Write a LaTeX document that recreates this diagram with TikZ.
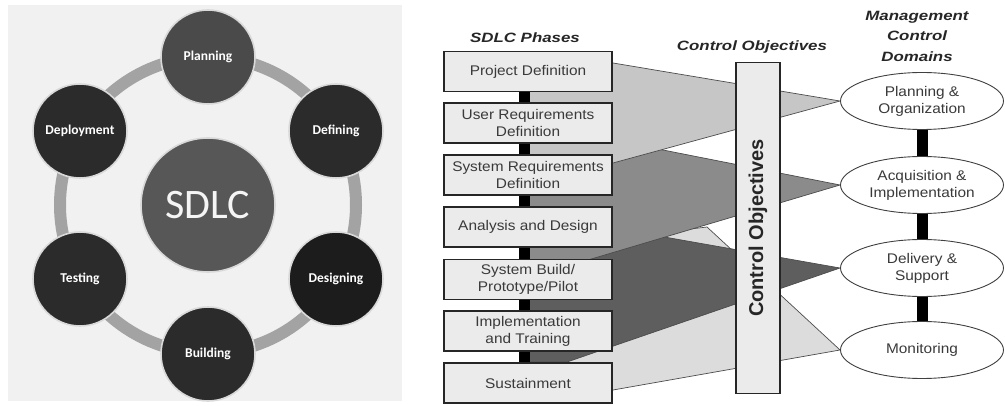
\documentclass[tikz,border=0pt]{standalone}
\usepackage{fontspec}
\usetikzlibrary{shapes.geometric}
\setmainfont{Liberation Sans}
\newfontfamily\calibri{Carlito}
\newfontfamily\phasefont[FakeStretch=1.1]{Liberation Sans}
\newfontfamily\headfont[FakeStretch=1.25]{Liberation Sans}

\definecolor{panelbg}{HTML}{F1F1F1}
\definecolor{ringgray}{HTML}{A3A3A3}
\definecolor{planfill}{HTML}{4A4A4A}
\definecolor{darkfill}{HTML}{2B2B2B}
\definecolor{deepfill}{HTML}{1C1C1C}
\definecolor{hubfill}{HTML}{575757}
\definecolor{boxfill}{HTML}{EBEBEB}
\definecolor{textgray}{HTML}{3A3A3A}
\definecolor{bandlight}{HTML}{C6C6C6}
\definecolor{bandmid}{HTML}{8B8B8B}
\definecolor{banddark}{HTML}{5E5E5E}
\definecolor{bandpale}{HTML}{DCDCDC}

\pgfdeclarelayer{bg}
\pgfsetlayers{bg,main}

\begin{document}
\begin{tikzpicture}[x=1pt, y=-1pt,
    stage/.style={circle, minimum size=94pt, inner sep=0pt, draw=white!70!gray, line width=1.6pt,
        text=white, font=\calibri\bfseries\fontsize{13.5}{16}\selectfont},
    phase/.style={draw=black!85, line width=1.8pt, fill=boxfill, minimum width=168pt, minimum height=40pt,
        inner sep=0pt, align=center, text=textgray, font=\phasefont\fontsize{14}{17}\selectfont},
    ctrlzone/.style={ellipse, draw=black!75, line width=0.9pt, fill=white, minimum width=163pt,
        minimum height=57pt, inner sep=0pt, align=center, text=textgray,
        font=\phasefont\fontsize{14}{17}\selectfont},
    heading/.style={align=center, text=black!85, font=\headfont\bfseries\itshape\fontsize{13.5}{20.5}\selectfont},
    link/.style={line width=11pt, black},
    band/.style={draw=black!70, line width=0.7pt}]

    \useasboundingbox (0,0) rectangle (1005,406);

    % ---------------- left: SDLC wheel ----------------
    \fill[panelbg] (8,5) rectangle (402,401);
    \draw[ringgray, line width=12pt] (208,205) circle (148);

    \node[stage, fill=planfill] (plan) at (208,57) {Planning};
    \node[stage, fill=darkfill] (def) at (336,131) {Defining};
    \node[stage, fill=deepfill] (des) at (336,279) {Designing};
    \node[stage, fill=darkfill] (build) at (208,354) {Building};
    \node[stage, fill=darkfill] (test) at (80,279) {Testing};
    \node[stage, fill=darkfill] (deploy) at (80,131) {Deployment};

    \node[circle, minimum size=134pt, fill=hubfill, draw=white!70!gray, line width=1.6pt,
        text=white!92!gray, font=\calibri\fontsize{42}{46}\selectfont] (hub) at (208,205) {SDLC};

    % ---------------- right: phases vs. control domains ----------------
    \node[heading] (phasehead) at (525,38) {SDLC Phases};
    \node[heading] (objhead) at (752,47) {Control Objectives};
    \node[heading] (domhead) at (917,36) {Management\\Control\\Domains};

    % SDLC phases
    \node[phase] (pd) at (528,71.5) {Project Definition};
    \node[phase] (urd) at (528,123) {User Requirements\\Definition};
    \node[phase] (srd) at (528,175) {System Requirements\\Definition};
    \node[phase] (ad) at (528,227) {Analysis and Design};
    \node[phase] (sb) at (528,279.5) {System Build/\\Prototype/Pilot};
    \node[phase] (it) at (528,331) {Implementation\\and Training};
    \node[phase] (sus) at (528,383) {Sustainment};

    \draw[link] ([xshift=-4pt]pd.south) -- ([xshift=-4pt]urd.north);
    \draw[link] ([xshift=-4pt]urd.south) -- ([xshift=-4pt]srd.north);
    \draw[link] ([xshift=-4pt]srd.south) -- ([xshift=-4pt]ad.north);
    \draw[link] ([xshift=-4pt]ad.south) -- ([xshift=-4pt]sb.north);
    \draw[link] ([xshift=-4pt]sb.south) -- ([xshift=-4pt]it.north);
    \draw[link] ([xshift=-4pt]it.south) -- ([xshift=-4pt]sus.north);

    % control objectives bar
    \node[draw=black!85, line width=1.8pt, fill=boxfill, rotate=90, minimum width=331pt,
        minimum height=44pt, inner sep=0pt, text=black!85,
        font=\bfseries\fontsize{20}{22}\selectfont] (cobj) at (758,228) {Control Objectives};

    % management control domains
    \node[ctrlzone] (po) at (922,101) {Planning \&\\Organization};
    \node[ctrlzone] (ai) at (922,185) {Acquisition \&\\Implementation};
    \node[ctrlzone] (ds) at (922,268) {Delivery \&\\Support};
    \node[ctrlzone] (mon) at (922,350) {Monitoring};

    \draw[link] (po.south) -- (ai.north);
    \draw[link] (ai.south) -- (ds.north);
    \draw[link] (ds.south) -- (mon.north);

    % mapping bands (behind everything)
    \begin{pgfonlayer}{bg}
        \filldraw[band, fill=bandpale] (mon.west) -- (707,227) -- (600,240) -- (550,340)
            -- (550,395) -- (613,390) -- cycle;
        \filldraw[band, fill=banddark] (ds.west) -- (670,238) -- (613,228) -- (524,228)
            -- (524,362) -- (567,362) -- cycle;
        \filldraw[band, fill=bandmid] (ai.west) -- (663,150) -- (524,130) -- (524,279) -- cycle;
        \filldraw[band, fill=bandlight] (po.west) -- (613,63) -- (524,63) -- (524,185)
            -- (613,163) -- cycle;
    \end{pgfonlayer}
\end{tikzpicture}
\end{document}
